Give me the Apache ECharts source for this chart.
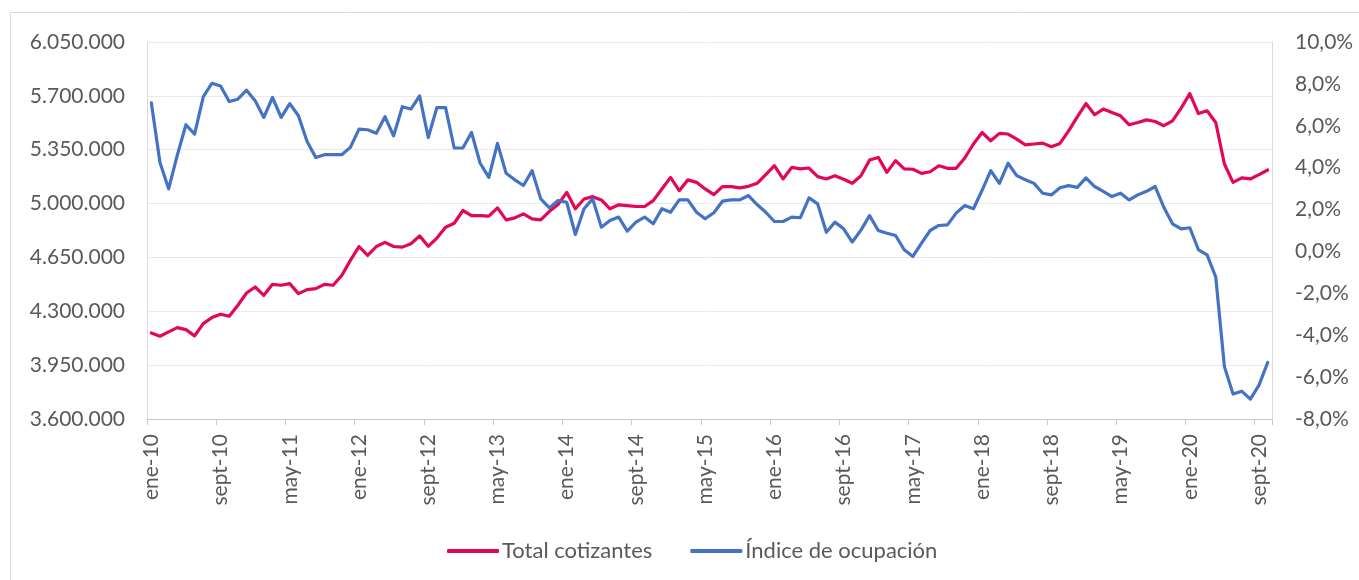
<!DOCTYPE html>
<html>
<head>
<meta charset="utf-8">
<title>Total cotizantes e índice de ocupación</title>
<script src="https://cdn.jsdelivr.net/npm/echarts@6/dist/echarts.min.js"></script>
<style>
  html, body { margin: 0; padding: 0; background: #fff; }
  #chart { width: 1359px; height: 580px; }
</style>
</head>
<body>
<div id="chart"></div>
<script>
// meses (ene-10 .. oct-20)
var mesNombres = ["ene", "feb", "mar", "abr", "may", "jun", "jul", "ago", "sept", "oct", "nov", "dic"];
var anios = ["10", "11", "12", "13", "14", "15", "16", "17", "18", "19", "20"];
var mesesUltimoAnio = 10;

var totalCotizantes = [
  4159000, 4138000, 4166000, 4194000, 4181000, 4140000, 4220000, 4259000, 4281000, 4268000,
  4339000, 4419000, 4458000, 4404000, 4475000, 4469000, 4480000, 4415000, 4441000, 4447000,
  4475000, 4469000, 4533000, 4631000, 4721000, 4663000, 4721000, 4748000, 4721000, 4717000,
  4739000, 4790000, 4722000, 4776000, 4846000, 4872000, 4955000, 4922000, 4922000, 4918000,
  4972000, 4894000, 4907000, 4933000, 4901000, 4894000, 4950000, 4994000, 5073000, 4966000,
  5030000, 5045000, 5024000, 4966000, 4992000, 4987000, 4981000, 4981000, 5019000, 5095000,
  5170000, 5084000, 5154000, 5138000, 5095000, 5058000, 5110000, 5110000, 5102000, 5112000,
  5132000, 5188000, 5246000, 5160000, 5235000, 5225000, 5231000, 5175000, 5160000, 5181000,
  5158000, 5132000, 5181000, 5283000, 5300000, 5203000, 5279000, 5225000, 5223000, 5196000,
  5207000, 5246000, 5229000, 5229000, 5296000, 5387000, 5462000, 5408000, 5456000, 5452000,
  5419000, 5382000, 5387000, 5393000, 5369000, 5391000, 5473000, 5564000, 5650000, 5577000,
  5614000, 5592000, 5570000, 5512000, 5527000, 5544000, 5533000, 5506000, 5538000, 5620000,
  5715000, 5585000, 5603000, 5527000, 5257000, 5138000, 5167000, 5160000, 5188000, 5218000
];

// índice de ocupación, en %
var indiceOcupacion = [
  7.10, 4.25, 2.99, 4.60, 6.05, 5.60, 7.38, 8.03, 7.90, 7.16,
  7.27, 7.70, 7.19, 6.40, 7.35, 6.40, 7.06, 6.48, 5.25, 4.49,
  4.62, 4.62, 4.62, 4.97, 5.84, 5.81, 5.64, 6.43, 5.52, 6.91,
  6.80, 7.43, 5.44, 6.87, 6.87, 4.94, 4.94, 5.68, 4.21, 3.54,
  5.16, 3.73, 3.42, 3.15, 3.86, 2.51, 2.08, 2.43, 2.35, 0.81,
  2.04, 2.51, 1.16, 1.48, 1.64, 0.97, 1.40, 1.64, 1.32, 2.04,
  1.87, 2.46, 2.46, 1.87, 1.56, 1.85, 2.40, 2.46, 2.46, 2.67,
  2.24, 1.87, 1.43, 1.43, 1.64, 1.61, 2.56, 2.27, 0.92, 1.40,
  1.08, 0.45, 1.02, 1.71, 1.00, 0.87, 0.76, 0.08, -0.24, 0.40,
  1.00, 1.24, 1.27, 1.83, 2.19, 2.04, 2.92, 3.86, 3.25, 4.21,
  3.62, 3.42, 3.25, 2.78, 2.70, 3.04, 3.14, 3.06, 3.51, 3.10,
  2.87, 2.62, 2.78, 2.46, 2.70, 2.87, 3.10, 2.11, 1.32, 1.08,
  1.13, 0.08, -0.16, -1.22, -5.50, -6.81, -6.67, -7.05, -6.38, -5.30
];

var categorias = [];
for (var a = 0; a < anios.length; a++) {
  var n = a === anios.length - 1 ? mesesUltimoAnio : 12;
  for (var m = 0; m < n; m++) {
    categorias.push(mesNombres[m] + "-" + anios[a]);
  }
}

var colorTotal = "#E3075A";
var colorIndice = "#4472C4";
var colorTexto = "#595959";
var fuente = "Lato";

var chart = echarts.init(document.getElementById("chart"), null, { renderer: "canvas" });

var option = {
  animation: false,
  backgroundColor: "#fff",
  textStyle: { fontFamily: fuente },
  graphic: [
    {
      type: "rect",
      shape: { x: 10.5, y: 12.5, width: 1400, height: 700 },
      style: { fill: "none", stroke: "#d9d9d9", lineWidth: 1 },
      silent: true,
      z: -1
    }
  ],
  grid: {
    left: 147,
    right: 87,
    top: 42,
    bottom: 161
  },
  legend: {
    left: 442,
    top: 535,
    itemWidth: 52,
    itemHeight: 4,
    itemGap: 38,
    icon: "roundRect",
    textStyle: { color: colorTexto, fontSize: 22, fontFamily: fuente, padding: [0, 0, 0, -2] },
    data: ["Total cotizantes", "Índice de ocupación"]
  },
  xAxis: {
    type: "category",
    data: categorias,
    boundaryGap: true,
    axisLine: { onZero: false, lineStyle: { color: "#c8c8c8", width: 1 } },
    axisTick: { show: true, interval: 7, length: 6, lineStyle: { color: "#c8c8c8" } },
    axisLabel: {
      interval: 7,
      rotate: 90,
      margin: 15,
      color: colorTexto,
      fontSize: 21,
      fontFamily: fuente
    },
    splitLine: { show: false }
  },
  yAxis: [
    {
      type: "value",
      min: 3600000,
      max: 6050000,
      interval: 350000,
      position: "left",
      axisLine: { show: true, lineStyle: { color: "#dcdcdc" } },
      axisTick: { show: false },
      splitLine: { show: true, lineStyle: { color: "#e9e9e9", width: 1 } },
      axisLabel: {
        margin: 22,
        color: colorTexto,
        fontSize: 21,
        fontFamily: fuente,
        formatter: function (v) {
          return String(v).replace(/\B(?=(\d{3})+(?!\d))/g, ".");
        }
      }
    },
    {
      type: "value",
      min: -8,
      max: 10,
      interval: 2,
      position: "right",
      axisLine: { show: true, lineStyle: { color: "#dcdcdc" } },
      axisTick: { show: false },
      splitLine: { show: false },
      axisLabel: {
        margin: 23,
        color: colorTexto,
        fontSize: 21,
        fontFamily: fuente,
        formatter: function (v) {
          return v.toFixed(1).replace(".", ",") + "%";
        }
      }
    }
  ],
  series: [
    {
      name: "Total cotizantes",
      type: "line",
      yAxisIndex: 0,
      data: totalCotizantes,
      showSymbol: false,
      symbol: "none",
      color: colorTotal,
      lineStyle: { color: colorTotal, width: 3.2, cap: "round", join: "round" }
    },
    {
      name: "Índice de ocupación",
      type: "line",
      yAxisIndex: 1,
      data: indiceOcupacion,
      showSymbol: false,
      symbol: "none",
      color: colorIndice,
      lineStyle: { color: colorIndice, width: 3.2, cap: "round", join: "round" }
    }
  ]
};

chart.setOption(option);
</script>
</body>
</html>
